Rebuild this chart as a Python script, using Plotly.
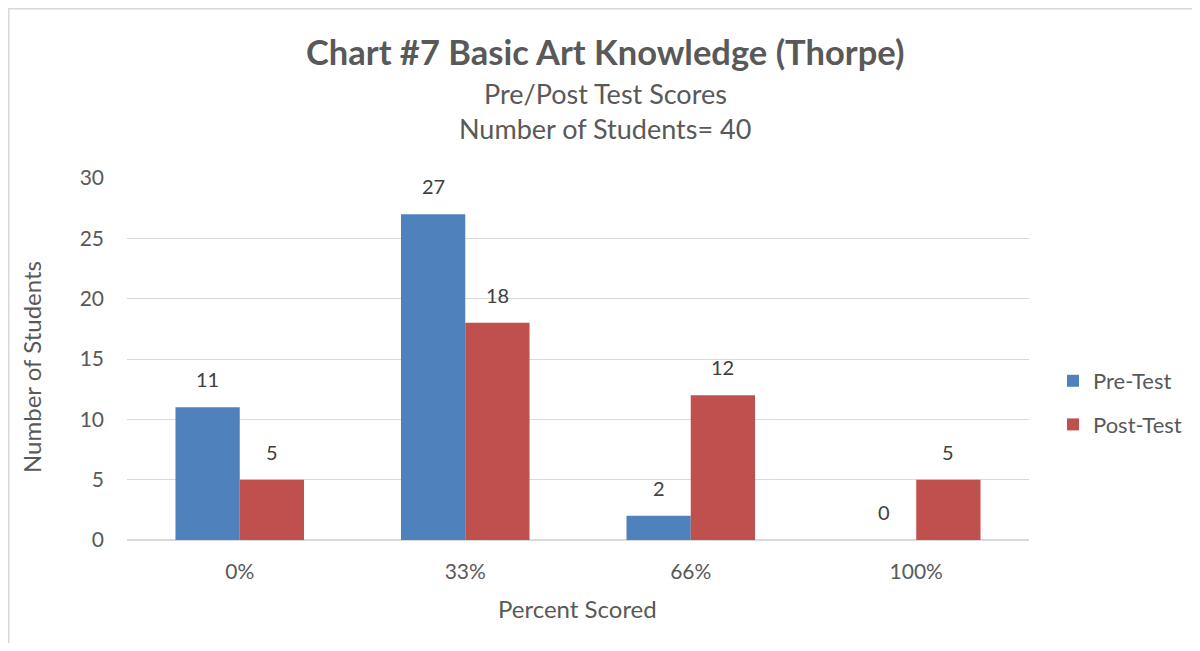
import plotly.graph_objects as go

categories = ["0%", "33%", "66%", "100%"]
pre_test = [11, 27, 2, 0]
post_test = [5, 18, 12, 5]
series_names = ["Pre-Test", "Post-Test"]
series_colors = ["#4f81bd", "#c0504d"]

FONT = "Lato"
GREY = "#595959"
OFF = 8  # browser body margin

W, H = 1184, 635
ML = 127 - OFF
MT = 178 - OFF
MR = W - (1029 - OFF)
MB = H - (540 - OFF)
pw, ph = W - ML - MR, H - MT - MB


def px_x(x):
    return (x - OFF - ML) / pw


def px_y(y):
    return 1 - (y - OFF - MT) / ph


fig = go.Figure()
for name, vals, col in zip(series_names, [pre_test, post_test], series_colors):
    fig.add_trace(go.Bar(name=name, x=categories, y=vals, marker_color=col,
                         legendgroup=name, marker_line_width=0))

annotations = []
# data labels placed from the data values via the axes
bar_half = 32
for i, vals in enumerate([pre_test, post_test]):
    shift = -bar_half if i == 0 else bar_half
    for c, v in zip(categories, vals):
        annotations.append(dict(x=c, y=v, xref="x", yref="y", text=str(v), showarrow=False,
                                xanchor="center", yanchor="bottom", xshift=shift, yshift=14,
                                font=dict(size=20, color="#404040", family=FONT)))

annotations += [
    dict(text="<b>Chart #7 Basic Art Knowledge (Thorpe)</b>", x=px_x(605), y=px_y(52),
         xref="paper", yref="paper", showarrow=False, xanchor="center", yanchor="middle",
         font=dict(size=34.5, color=GREY, family=FONT)),
    dict(text="Pre/Post Test Scores", x=px_x(605), y=px_y(93),
         xref="paper", yref="paper", showarrow=False, xanchor="center", yanchor="middle",
         font=dict(size=27, color=GREY, family=FONT)),
    dict(text="Number of Students= 40", x=px_x(605), y=px_y(128),
         xref="paper", yref="paper", showarrow=False, xanchor="center", yanchor="middle",
         font=dict(size=27, color=GREY, family=FONT)),
    dict(text="Percent Scored", x=px_x(577), y=px_y(608),
         xref="paper", yref="paper", showarrow=False, xanchor="center", yanchor="middle",
         font=dict(size=24, color=GREY, family=FONT)),
    dict(text="Number of Students", x=px_x(31), y=px_y(367), textangle=-90,
         xref="paper", yref="paper", showarrow=False, xanchor="center", yanchor="middle",
         font=dict(size=24, color=GREY, family=FONT)),
]

fig.update_layout(
    width=W, height=H,
    margin=dict(l=ML, r=MR, t=MT, b=MB, autoexpand=False),
    barmode="group", bargap=0.43, bargroupgap=0,
    plot_bgcolor="white", paper_bgcolor="white",
    font=dict(family=FONT, color=GREY, size=18),
    showlegend=True,
    legend=dict(xref="container", yref="container",
                x=(1053 - OFF) / W, y=1 - (360 - OFF) / H, xanchor="left", yanchor="top",
                font=dict(size=22, color=GREY, family=FONT), tracegroupgap=12,
                itemwidth=30, bgcolor="rgba(0,0,0,0)"),
    xaxis=dict(showline=False, ticks="", tickfont=dict(size=21, color=GREY),
               ticklabelstandoff=17),
    yaxis=dict(range=[0, 30], dtick=5, showgrid=True, gridcolor="#d9d9d9", gridwidth=1.3,
               zeroline=True, zerolinecolor="#d9d9d9", zerolinewidth=1.5,
               tickfont=dict(size=21, color=GREY), ticks="", ticklabelstandoff=22),
    annotations=annotations,
    shapes=[dict(type="rect", xref="paper", yref="paper",
                 x0=(0.75 - ML) / pw, x1=(W + 40 - ML) / pw,
                 y0=1 - (H + 40 - MT) / ph, y1=1 - (0.75 - MT) / ph,
                 line=dict(color="#d9d9d9", width=1.5), fillcolor="rgba(0,0,0,0)", layer="below")],
)

fig.write_html("out.html")
